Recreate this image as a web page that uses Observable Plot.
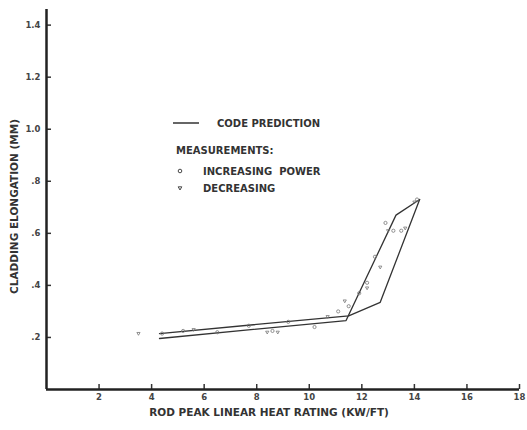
<!DOCTYPE html>
<html>
<head>
<meta charset="utf-8">
<script src="https://cdn.jsdelivr.net/npm/d3@7"></script>
<script src="https://cdn.jsdelivr.net/npm/@observablehq/plot@0.6"></script>
<style>
  html, body { margin: 0; padding: 0; background: #fff; }
  #chart { width: 527px; height: 430px; }
</style>
</head>
<body>
<div id="chart"></div>
<script>
// ---- data ----
const xTicks = [2, 4, 6, 8, 10, 12, 14, 16, 18];
const xTickLabels = ["2", "4", "6", "8", "10", "12", "14", "16", "18"];
const yTicks = [0.2, 0.4, 0.6, 0.8, 1.0, 1.2, 1.4];
const yTickLabels = [".2", ".4", ".6", ".8", "1.0", "1.2", "1.4"];

// code prediction (hysteresis loop)
const predIncX = [4.3, 11.4, 13.3, 14.2];
const predIncY = [0.196, 0.265, 0.67, 0.73];
const predDecX = [14.2, 12.7, 11.5, 4.3];
const predDecY = [0.73, 0.335, 0.283, 0.215];

// measurements
const incX = [4.4, 5.2, 6.5, 7.7, 8.6, 9.2, 10.2, 11.1, 11.5, 11.9, 12.2, 12.5, 12.9, 13.2, 13.5, 14.1];
const incY = [0.215, 0.225, 0.22, 0.245, 0.225, 0.26, 0.24, 0.30, 0.32, 0.37, 0.41, 0.51, 0.64, 0.61, 0.61, 0.73];
const decX = [3.5, 5.6, 8.4, 8.8, 10.7, 11.35, 12.2, 12.7, 13.0, 13.65, 14.0];
const decY = [0.215, 0.23, 0.22, 0.22, 0.28, 0.34, 0.39, 0.47, 0.61, 0.62, 0.72];

const xTitle = "ROD PEAK LINEAR HEAT RATING (KW/FT)";
const yTitle = "CLADDING ELONGATION (MM)";
const legendLine = "CODE PREDICTION";
const legendHead = "MEASUREMENTS:";
const legendInc = "INCREASING  POWER";
const legendDec = "DECREASING";

// ---- build tables ----
const zip = (xs, ys) => xs.map((x, i) => ({x, y: ys[i]}));
const predInc = zip(predIncX, predIncY);
const predDec = zip(predDecX, predDecY);
const measInc = zip(incX, incY);
const measDec = zip(decX, decY);

const downTriangle = {
  draw(context, size) {
    const s = Math.sqrt(size) * 0.9;
    context.moveTo(-s / 2, -s / 3);
    context.lineTo(s / 2, -s / 3);
    context.lineTo(0, s * 0.55);
    context.closePath();
  }
};

const ink = "#333";
const font = "DejaVu Sans";

const plot = Plot.plot({
  width: 527,
  height: 430,
  marginLeft: 46,
  marginRight: 8,
  marginTop: 9,
  marginBottom: 41,
  x: {domain: [0, 18]},
  y: {domain: [0, 1.46]},
  style: {fontFamily: font, fontWeight: "bold", fontSize: "8.5px", color: ink, background: "#fff"},
  marks: [
    Plot.axisX({ticks: xTicks, tickSize: -5, tickPadding: 9, tickFormat: (d, i) => xTickLabels[i], label: null, strokeWidth: 1.5, fill: "#444"}),
    Plot.axisY({ticks: yTicks, tickSize: -5, tickPadding: 11, tickFormat: (d, i) => yTickLabels[i], label: null, strokeWidth: 1.5, fill: "#444"}),
    Plot.ruleX([0], {stroke: "#222", strokeWidth: 2.5}),
    Plot.ruleY([0], {stroke: "#222", strokeWidth: 2.5}),
    Plot.line(predInc, {x: "x", y: "y", stroke: ink, strokeWidth: 1.3}),
    Plot.line(predDec, {x: "x", y: "y", stroke: ink, strokeWidth: 1.3}),
    Plot.dot(measInc, {x: "x", y: "y", r: 1.6, stroke: "#777", strokeWidth: 0.8}),
    Plot.dot(measDec, {x: "x", y: "y", symbol: downTriangle, r: 2, stroke: "#777", strokeWidth: 0.8}),
    Plot.text([xTitle], {frameAnchor: "bottom", dx: -14, dy: 26, fontSize: 10.5, fontWeight: "bold", fill: ink}),
    Plot.text([yTitle], {frameAnchor: "left", textAnchor: "middle", rotate: -90, dx: -32, dy: 7, fontSize: 10.5, fontWeight: "bold", fill: ink})
  ]
});

// ---- legend (layout in pixels) ----
const svg = d3.select(plot);
const g = svg.append("g").attr("font-family", font).attr("font-weight", "bold").attr("font-size", 10).attr("fill", ink).attr("text-anchor", "start");
g.append("line").attr("x1", 173).attr("x2", 199).attr("y1", 123).attr("y2", 123).attr("stroke", ink).attr("stroke-width", 1.5);
g.append("text").attr("x", 217).attr("y", 123).attr("dy", "0.35em").text(legendLine);
g.append("text").attr("x", 176).attr("y", 150).attr("dy", "0.35em").text(legendHead);
g.append("circle").attr("cx", 180).attr("cy", 171).attr("r", 1.8).attr("fill", "none").attr("stroke", ink).attr("stroke-width", 0.9);
g.append("text").attr("x", 203).attr("y", 171).attr("dy", "0.35em").style("white-space", "pre").text(legendInc);
g.append("path").attr("transform", "translate(180,188)").attr("d", d3.symbol(downTriangle, 16)()).attr("fill", "none").attr("stroke", ink).attr("stroke-width", 0.9);
g.append("text").attr("x", 203).attr("y", 188).attr("dy", "0.35em").text(legendDec);

document.getElementById("chart").appendChild(plot);
</script>
</body>
</html>
